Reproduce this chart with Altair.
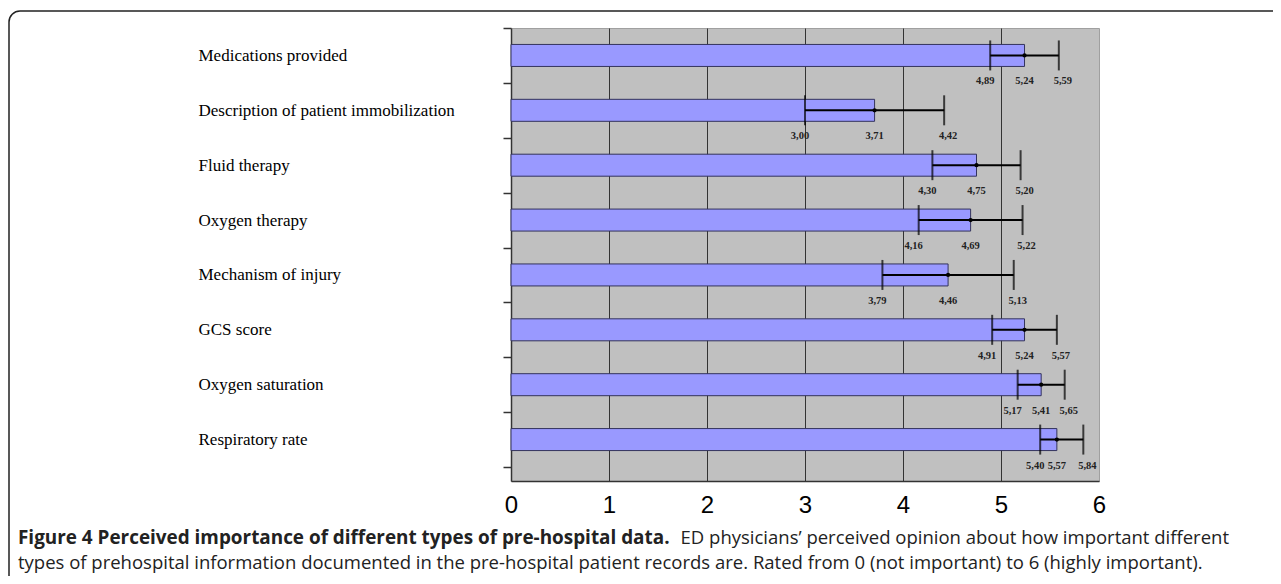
import altair as alt
import pandas as pd

categories = [
    "Medications provided",
    "Description of patient immobilization",
    "Fluid therapy",
    "Oxygen therapy",
    "Mechanism of injury",
    "GCS score",
    "Oxygen saturation",
    "Respiratory rate",
]
means = [5.24, 3.71, 4.75, 4.69, 4.46, 5.24, 5.41, 5.57]
lows = [4.89, 3.00, 4.30, 4.16, 3.79, 4.91, 5.17, 5.40]
highs = [5.59, 4.42, 5.20, 5.22, 5.13, 5.57, 5.65, 5.84]
x_ticks = [0, 1, 2, 3, 4, 5, 6]

caption_bold = "Figure 4 Perceived importance of different types of pre-hospital data."
caption_rest1 = "ED physicians\u2019 perceived opinion about how important different"
caption_line2 = ("types of prehospital information documented in the pre-hospital patient "
                 "records are. Rated from 0 (not important) to 6 (highly important).")

df = pd.DataFrame({"cat": categories, "mean": means, "lo": lows, "hi": highs})

W, H = 588, 453

yenc = alt.Y(
    "cat:N",
    sort=categories,
    scale=alt.Scale(paddingInner=0, paddingOuter=0.1275, align=0),
    axis=alt.Axis(
        title=None,
        labelAlign="left",
        labelBaseline="middle",
        labelPadding=305,
        tickSize=8,
        tickBand="extent",
        tickColor="#333333",
        tickWidth=1.5,
        domainColor="#333333",
        domainWidth=1.5,
        labelFont="Liberation Serif",
        labelFontSize=17,
        labelColor="#000000",
        labelLimit=400,
        grid=False,
    ),
)

xenc = alt.X(
    "mean:Q",
    scale=alt.Scale(domain=[0, 6], nice=False),
    axis=alt.Axis(
        title=None,
        values=x_ticks,
        format="d",
        grid=True,
        gridColor={
            "condition": {"test": "datum.value === 0 || datum.value === 6", "value": "transparent"},
            "value": "#333333",
        },
        gridWidth=1,
        tickSize=0,
        labelFont="Liberation Sans",
        labelFontSize=24,
        labelColor="#000000",
        labelPadding=12,
        labelFlush=False,
        domainColor="#333333",
        domainWidth=1.5,
    ),
)

base = alt.Chart(df)

bars = base.mark_bar(size=22, color="#9999ff", stroke="#33335c", strokeWidth=1).encode(
    y=yenc, x=xenc
)

err = base.mark_rule(color="#000000", strokeWidth=2).encode(
    y=alt.Y("cat:N", sort=categories),
    x=alt.X("lo:Q"),
    x2="hi:Q",
)

cap_lo = base.mark_tick(color="#000000", size=30, thickness=2).encode(
    y=alt.Y("cat:N", sort=categories), x=alt.X("lo:Q")
)
cap_hi = base.mark_tick(color="#000000", size=30, thickness=2).encode(
    y=alt.Y("cat:N", sort=categories), x=alt.X("hi:Q")
)
dot = base.mark_point(filled=True, color="#000000", size=18, opacity=1).encode(
    y=alt.Y("cat:N", sort=categories), x=alt.X("mean:Q")
)


def value_labels(field, dx):
    return base.transform_calculate(
        lbl=f"replace(format(datum['{field}'], '.2f'), '.', ',')"
    ).mark_text(
        font="Liberation Serif",
        fontWeight="bold",
        fontSize=10.5,
        color="#222222",
        baseline="middle",
        align="center",
        yOffset=26,
        dx=dx,
    ).encode(
        y=alt.Y("cat:N", sort=categories),
        x=alt.X(f"{field}:Q"),
        text="lbl:N",
    )


one = alt.Data(values=[{"k": 1}])

frame = alt.Chart(one).mark_rect(
    cornerRadius=11, fill="transparent", stroke="#222222", strokeWidth=1.5
).encode(
    x=alt.value(-502), x2=alt.value(800), y=alt.value(-17), y2=alt.value(580)
)

cap1 = alt.Chart(one).mark_text(
    font="Open Sans", fontWeight="bold", fontSize=18.9, color="#222222",
    align="left", baseline="alphabetic",
).encode(x=alt.value(-493), y=alt.value(516), text=alt.value(caption_bold))

cap2 = alt.Chart(one).mark_text(
    font="Open Sans", fontSize=18.5, color="#222222",
    align="right", baseline="alphabetic",
).encode(x=alt.value(718), y=alt.value(516), text=alt.value(caption_rest1))

cap3 = alt.Chart(one).mark_text(
    font="Open Sans", fontSize=18.5, color="#222222",
    align="left", baseline="alphabetic",
).encode(x=alt.value(-493), y=alt.value(541), text=alt.value(caption_line2))

chart = alt.layer(
    frame, bars, err, cap_lo, cap_hi, dot,
    value_labels("lo", -5), value_labels("mean", 0), value_labels("hi", 4),
    cap1, cap2, cap3,
).properties(
    width=W, height=H,
    autosize=alt.AutoSizeParams(type="none"),
    padding={"left": 503, "top": 20, "right": 174, "bottom": 95},
    background="#ffffff",
).configure_view(
    fill="#c0c0c0", stroke="#a0a0a0", strokeWidth=1
)

chart.save("out.html", embed_options={"renderer": "svg", "actions": False})
